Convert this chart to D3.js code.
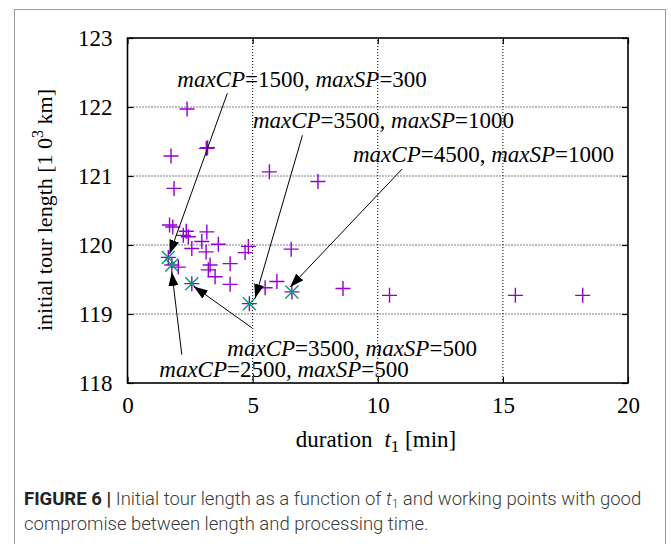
<!DOCTYPE html>
<html>
<head>
<meta charset="utf-8">
<script src="https://cdn.jsdelivr.net/npm/d3@7"></script>
<style>
    body { margin: 0; background: #fff; }
    svg { display: block; }
</style>
</head>
<body>
<div id="chart"></div>
<script>
// all runs: duration t1 [min] and initial tour length [10^3 km]
var durations = [2.38, 3.15, 3.20, 1.74, 1.86, 5.67, 7.61, 1.68, 1.81, 2.23, 2.35, 2.43, 3.17,
    2.97, 2.57, 3.63, 3.14, 4.83, 4.70, 4.10, 3.30, 3.23, 3.50, 2.03, 4.10, 5.50, 5.97,
    6.54, 8.61, 10.47, 15.50, 18.19, 1.63, 1.77, 2.57, 4.87, 6.57];
var lengths = [121.97, 121.40, 121.41, 121.29, 120.82, 121.06, 120.92, 120.29, 120.26, 120.14, 120.20, 120.12, 120.19,
    120.05, 119.95, 120.01, 119.90, 119.98, 119.89, 119.73, 119.71, 119.64, 119.54, 119.68, 119.43, 119.38, 119.47,
    119.94, 119.37, 119.27, 119.27, 119.27, 119.82, 119.71, 119.44, 119.15, 119.32];

// working points with good compromise
var goodDurations = [1.63, 1.77, 2.57, 4.87, 6.57];
var goodLengths = [119.82, 119.71, 119.44, 119.15, 119.32];

// annotations: maxCP / maxSP values, text anchor and arrow (data coords)
var labelCP = [1500, 3500, 4500, 3500, 2500];
var labelSP = [300, 1000, 1000, 500, 500];
var labelX = [1.99, 5.01, 9.01, 3.99, 1.27];
var labelY = [122.29, 121.69, 121.21, 118.39, 118.09];
var arrowFromX = [3.99, 6.99, 10.97, 4.97, 2.17];
var arrowFromY = [122.20, 121.59, 121.10, 118.80, 118.41];
var arrowToX = [1.68, 5.10, 6.50, 2.65, 1.77];
var arrowToY = [119.87, 119.23, 119.39, 119.40, 119.61];

var xTicks = [0, 5, 10, 15, 20];
var yTicks = [118, 119, 120, 121, 122, 123];

var width = 671, height = 544;
var margin = {left: 127.5, right: 43, top: 38, bottom: 161};

var svg = d3.select("#chart").append("svg")
    .attr("width", width)
    .attr("height", height);

// figure frame
svg.append("rect")
    .attr("x", 14.5).attr("y", 9.5)
    .attr("width", 651).attr("height", 560)
    .attr("fill", "none")
    .attr("stroke", "#9a9a9a")
    .attr("stroke-width", 1);

var x = d3.scaleLinear().domain([0, 20]).range([margin.left, width - margin.right]);
var y = d3.scaleLinear().domain([118, 123]).range([height - margin.bottom, margin.top]);

var serif = "'Liberation Serif', 'DejaVu Serif', serif";
var fs = 23;

// grid
svg.append("g").selectAll("line")
    .data(xTicks.slice(1, -1))
    .enter().append("line")
    .attr("x1", d => x(d)).attr("x2", d => x(d))
    .attr("y1", y(118)).attr("y2", y(123))
    .attr("stroke", "#000").attr("stroke-width", 1)
    .attr("stroke-dasharray", "1,2");
svg.append("g").selectAll("line")
    .data(yTicks.slice(1, -1))
    .enter().append("line")
    .attr("y1", d => y(d)).attr("y2", d => y(d))
    .attr("x1", x(0)).attr("x2", x(20))
    .attr("stroke", "#000").attr("stroke-width", 1)
    .attr("stroke-dasharray", "1,2");

// axes with mirrored inward ticks
var tickLen = 6;
svg.append("g")
    .attr("transform", "translate(0," + y(118) + ")")
    .call(d3.axisBottom(x).tickValues(xTicks).tickSize(-tickLen).tickPadding(14).tickFormat(d3.format("d")));
svg.append("g")
    .attr("transform", "translate(0," + y(123) + ")")
    .call(d3.axisTop(x).tickValues(xTicks).tickSize(-tickLen).tickFormat(""));
svg.append("g")
    .attr("transform", "translate(" + x(0) + ",0)")
    .call(d3.axisLeft(y).tickValues(yTicks).tickSize(-tickLen).tickPadding(15).tickFormat(d3.format("d")));
svg.append("g")
    .attr("transform", "translate(" + x(20) + ",0)")
    .call(d3.axisRight(y).tickValues(yTicks).tickSize(-tickLen).tickFormat(""));

svg.selectAll(".domain").remove();
svg.selectAll(".tick line").attr("stroke", "#000").attr("stroke-width", 1.2);
svg.selectAll(".tick text")
    .attr("font-family", serif)
    .attr("font-size", fs)
    .attr("fill", "#000");

// border
svg.append("rect")
    .attr("x", x(0)).attr("y", y(123))
    .attr("width", x(20) - x(0)).attr("height", y(118) - y(123))
    .attr("fill", "none")
    .attr("stroke", "#000")
    .attr("stroke-width", 1.6);

// purple plus points
var ps = 7.5;
svg.append("g").selectAll("path")
    .data(durations.map((d, i) => [d, lengths[i]]))
    .enter().append("path")
    .attr("d", d => "M" + (x(d[0]) - ps) + "," + y(d[1]) + "h" + (2 * ps) +
        "M" + x(d[0]) + "," + (y(d[1]) - ps) + "v" + (2 * ps))
    .attr("stroke", "#9400d3")
    .attr("stroke-width", 1.4)
    .attr("fill", "none");

// green cross overlay on good points
var gs = 6.5;
svg.append("g").selectAll("path")
    .data(goodDurations.map((d, i) => [d, goodLengths[i]]))
    .enter().append("path")
    .attr("d", d => "M" + (x(d[0]) - gs) + "," + (y(d[1]) - gs) + "l" + (2 * gs) + "," + (2 * gs) +
        "M" + (x(d[0]) - gs) + "," + (y(d[1]) + gs) + "l" + (2 * gs) + "," + (-2 * gs))
    .attr("stroke", "#009e73")
    .attr("stroke-width", 1.4)
    .attr("fill", "none");

// arrows
var defs = svg.append("defs");
defs.append("marker")
    .attr("id", "head")
    .attr("viewBox", "0 0 14 10")
    .attr("refX", 14).attr("refY", 5)
    .attr("markerWidth", 14).attr("markerHeight", 10)
    .attr("markerUnits", "userSpaceOnUse")
    .attr("orient", "auto")
    .append("path")
    .attr("d", "M0,0 L14,5 L0,10 Z")
    .attr("fill", "#000");

svg.append("g").selectAll("line")
    .data(labelCP)
    .enter().append("line")
    .attr("x1", (d, i) => x(arrowFromX[i])).attr("y1", (d, i) => y(arrowFromY[i]))
    .attr("x2", (d, i) => x(arrowToX[i])).attr("y2", (d, i) => y(arrowToY[i]))
    .attr("stroke", "#000")
    .attr("stroke-width", 1)
    .attr("marker-end", "url(#head)");

// labels
var labels = svg.append("g").selectAll("text")
    .data(labelCP)
    .enter().append("text")
    .attr("x", (d, i) => x(labelX[i]))
    .attr("y", (d, i) => y(labelY[i]))
    .attr("font-family", serif)
    .attr("font-size", fs)
    .attr("fill", "#000");
labels.each(function (d, i) {
    var t = d3.select(this);
    t.append("tspan").attr("font-style", "italic").text("maxCP");
    t.append("tspan").text("=" + d + ", ");
    t.append("tspan").attr("font-style", "italic").text("maxSP");
    t.append("tspan").text("=" + labelSP[i]);
});

// axis titles
var xt = svg.append("text")
    .attr("x", 376).attr("y", 447)
    .attr("text-anchor", "middle")
    .attr("font-family", serif)
    .attr("font-size", fs);
xt.append("tspan").text("duration");
xt.append("tspan").attr("dx", 12).attr("font-style", "italic").text("t");
xt.append("tspan").attr("font-size", 17).attr("dy", 5).text("1");
xt.append("tspan").attr("dy", -5).text(" [min]");

var yt = svg.append("text")
    .attr("transform", "translate(52,210) rotate(-90)")
    .attr("text-anchor", "middle")
    .attr("font-family", serif)
    .attr("font-size", 22);
yt.append("tspan").text("initial tour length [1 0");
yt.append("tspan").attr("font-size", 16).attr("dy", -9).text("3");
yt.append("tspan").attr("dy", 9).text(" km]");

// caption
var sans = "Roboto, 'Open Sans', sans-serif";
var c1 = svg.append("text")
    .attr("x", 24).attr("y", 505)
    .attr("font-family", sans)
    .attr("font-size", 18.5)
    .attr("fill", "#3a3a3a");
c1.append("tspan").attr("font-weight", 700).attr("fill", "#222").text("FIGURE 6 | ");
c1.append("tspan").attr("font-weight", 300).text("Initial tour length as a function of ");
c1.append("tspan").attr("font-weight", 300).attr("font-style", "italic").text("t");
c1.append("tspan").attr("font-weight", 300).attr("font-size", 12).attr("dy", 3).text("1");
c1.append("tspan").attr("font-weight", 300).attr("dy", -3).text(" and working points with good");

svg.append("text")
    .attr("x", 24).attr("y", 530)
    .attr("font-family", sans)
    .attr("font-size", 18.5)
    .attr("font-weight", 300)
    .attr("fill", "#3a3a3a")
    .text("compromise between length and processing time.");
</script>
</body>
</html>
